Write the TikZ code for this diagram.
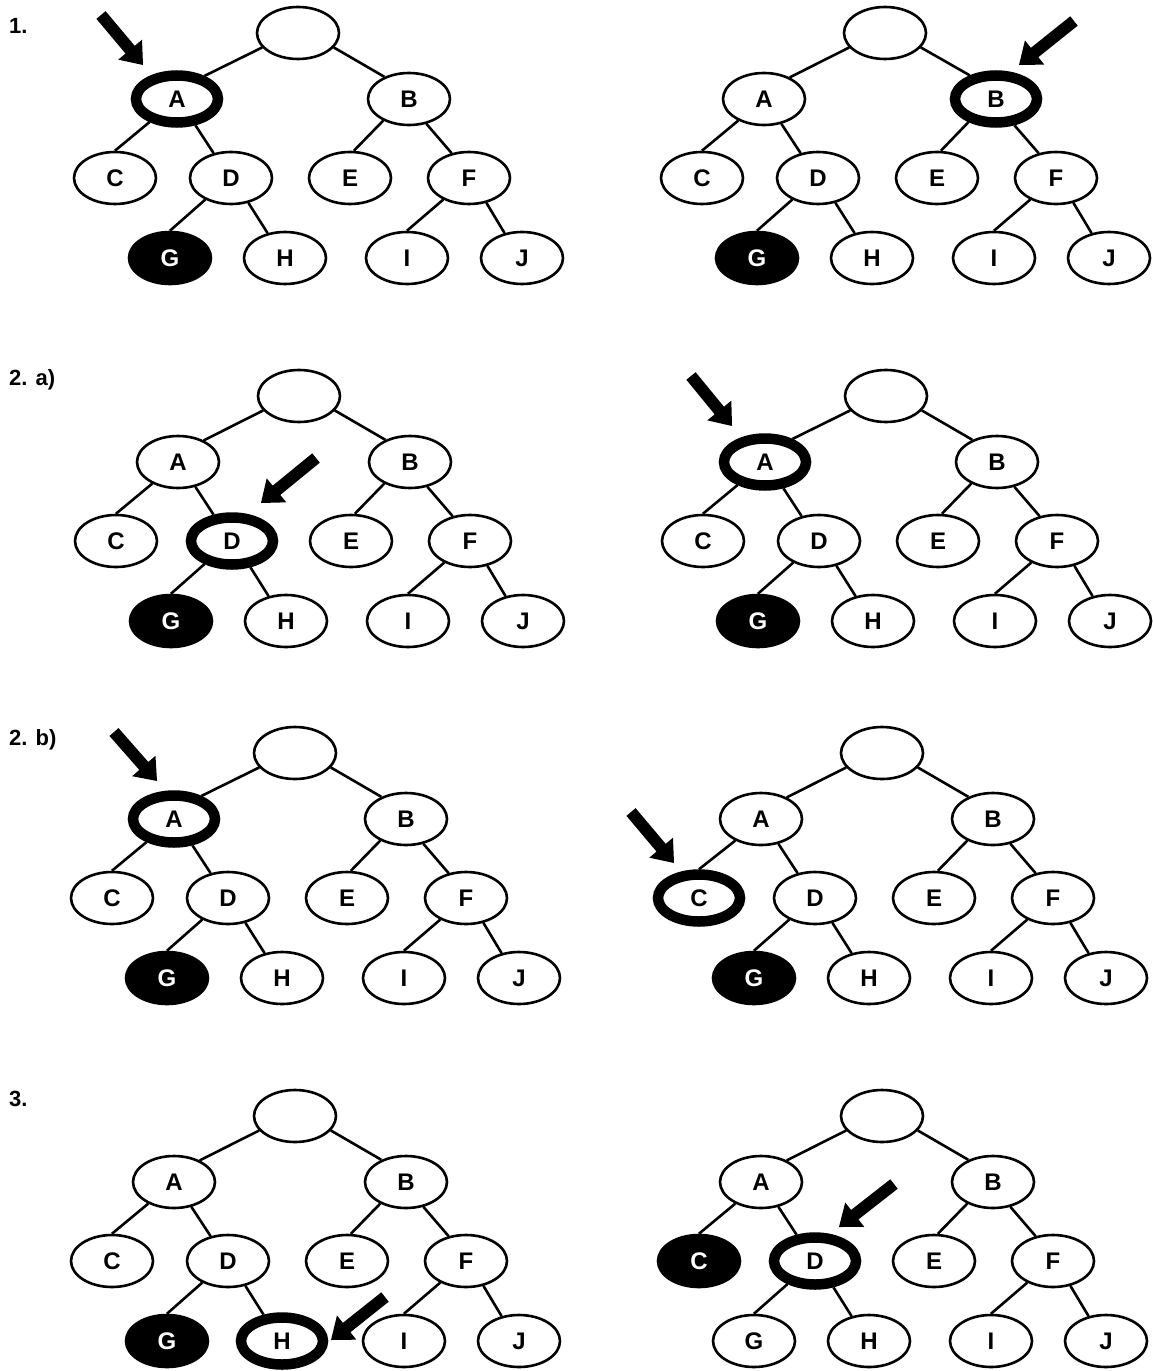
\documentclass[tikz,border=0pt]{standalone}
\usepackage{fontspec}
\setmainfont{Liberation Sans}
\usetikzlibrary{shapes.geometric,calc}

\tikzset{
  nd/.style={ellipse, draw, line width=2.6bp, minimum width=82bp, minimum height=52bp,
    inner sep=0pt, fill=white, font=\fontsize{24bp}{24bp}\selectfont\bfseries},
  hl/.style={line width=10.5bp, minimum height=47bp},
  blk/.style={fill=black, text=white},
  sR/.style={}, sA/.style={}, sB/.style={}, sC/.style={}, sD/.style={},
  sE/.style={}, sF/.style={}, sG/.style={blk}, sH/.style={}, sI/.style={}, sJ/.style={},
  edge/.style={line width=2.6bp},
  lbl/.style={font=\fontsize{22bp}{22bp}\selectfont\bfseries, anchor=base west, inner sep=0pt},
}

\newcommand\heaptree[1]{%
  \node[nd,sR] (#1R) at (0,0) {};
  \node[nd,sA] (#1A) at (-121,66) {A};
  \node[nd,sB] (#1B) at (111,66) {B};
  \node[nd,sC] (#1C) at (-183,145) {C};
  \node[nd,sD] (#1D) at (-67,145) {D};
  \node[nd,sE] (#1E) at (52,145) {E};
  \node[nd,sF] (#1F) at (171,145) {F};
  \node[nd,sG] (#1G) at (-128,225) {G};
  \node[nd,sH] (#1H) at (-13,225) {H};
  \node[nd,sI] (#1I) at (109,225) {I};
  \node[nd,sJ] (#1J) at (224,225) {J};
  \draw[edge] (#1R.202) -- (#1A.40);
  \draw[edge] (#1R.338) -- (#1B.138);
  \draw[edge] (#1A.220) -- (#1C.north);
  \draw[edge] (#1A.305) -- (#1D.125);
  \draw[edge] (#1B.220) -- (#1E.82);
  \draw[edge] (#1B.305) -- (#1F.125);
  \draw[edge] (#1D.220) -- (#1G.north);
  \draw[edge] (#1D.305) -- (#1H.125);
  \draw[edge] (#1F.220) -- (#1I.north);
  \draw[edge] (#1F.305) -- (#1J.125);
}

\newcommand\fatarrow[2]{%
  \fill let \p1=($(#2)-(#1)$), \n1={atan2(\y1,\x1)} in
    ($(#1)+(\n1+90:6bp)$)
    -- ($(#2)+(\n1+180:20bp)+(\n1+90:6bp)$)
    -- ($(#2)+(\n1+180:20bp)+(\n1+90:15.5bp)$)
    -- (#2)
    -- ($(#2)+(\n1+180:20bp)+(\n1-90:15.5bp)$)
    -- ($(#2)+(\n1+180:20bp)+(\n1-90:6bp)$)
    -- ($(#1)+(\n1-90:6bp)$) -- cycle;
}

\begin{document}
\begin{tikzpicture}[x=1bp,y=-1bp]
\useasboundingbox (0,0) rectangle (1152,1371);
\fill[white] (0,0) rectangle (1152,1371);

% labels
\node[lbl] (l1) at (9,34) {1.};
\node[lbl] (l2a) at (9,385) {2. a)};
\node[lbl] (l2b) at (9,745) {2. b)};
\node[lbl] (l3) at (9,1106) {3.};

% row 1
\begin{scope}[shift={(298,33)}, sA/.style={hl}]
  \heaptree{a}
\end{scope}
\begin{scope}[shift={(885,33)}, sB/.style={hl}]
  \heaptree{b}
\end{scope}
% row 2
\begin{scope}[shift={(299,396)}, sD/.style={hl}]
  \heaptree{c}
\end{scope}
\begin{scope}[shift={(886,396)}, sA/.style={hl}]
  \heaptree{d}
\end{scope}
% row 3
\begin{scope}[shift={(295,753)}, sA/.style={hl}]
  \heaptree{e}
\end{scope}
\begin{scope}[shift={(882,753)}, sC/.style={hl}]
  \heaptree{f}
\end{scope}
% row 4
\begin{scope}[shift={(295,1116)}, sH/.style={hl}]
  \heaptree{g}
\end{scope}
\begin{scope}[shift={(882,1116)}, sD/.style={hl}, sC/.style={blk}, sG/.style={}]
  \heaptree{h}
\end{scope}

% arrows
\coordinate (t1) at (101,15);   \coordinate (p1) at (143,65);
\coordinate (t2) at (1074,21);  \coordinate (p2) at (1019,65);
\coordinate (t3) at (316,458);  \coordinate (p3) at (261,503);
\coordinate (t4) at (691,376);  \coordinate (p4) at (732,426);
\coordinate (t5) at (114,732);  \coordinate (p5) at (157,781);
\coordinate (t6) at (631,812);  \coordinate (p6) at (674,863);
\coordinate (t7) at (385,1297); \coordinate (p7) at (331,1340);
\coordinate (t8) at (894,1184); \coordinate (p8) at (839,1227);
\fatarrow{t1}{p1}
\fatarrow{t2}{p2}
\fatarrow{t3}{p3}
\fatarrow{t4}{p4}
\fatarrow{t5}{p5}
\fatarrow{t6}{p6}
\fatarrow{t7}{p7}
\fatarrow{t8}{p8}
\end{tikzpicture}
\end{document}
